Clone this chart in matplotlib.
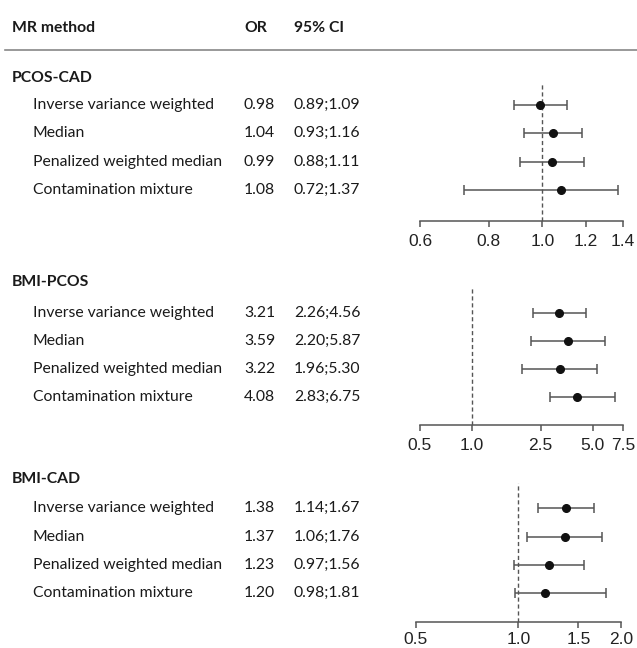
import matplotlib
matplotlib.use("Agg")
import matplotlib.pyplot as plt
import matplotlib.transforms as mtrans

# ---------------- data ----------------
methods = ["Inverse variance weighted", "Median",
           "Penalized weighted median", "Contamination mixture"]
groups = ["PCOS-CAD", "BMI-PCOS", "BMI-CAD"]

or_text = [["0.98", "1.04", "0.99", "1.08"],
           ["3.21", "3.59", "3.22", "4.08"],
           ["1.38", "1.37", "1.23", "1.20"]]
ci_text = [["0.89;1.09", "0.93;1.16", "0.88;1.11", "0.72;1.37"],
           ["2.26;4.56", "2.20;5.87", "1.96;5.30", "2.83;6.75"],
           ["1.14;1.67", "1.06;1.76", "0.97;1.56", "0.98;1.81"]]

# plotted estimates (as read from the drawn marks)
est_pcos_cad = [0.99, 1.045, 1.04, 1.08]
lo_pcos_cad = [0.89, 0.925, 0.91, 0.72]
hi_pcos_cad = [1.11, 1.18, 1.19, 1.37]

est_bmi_pcos = [3.21, 3.59, 3.22, 4.08]
lo_bmi_pcos = [2.26, 2.20, 1.96, 2.83]
hi_bmi_pcos = [4.56, 5.87, 5.30, 6.75]

est_bmi_cad = [1.38, 1.37, 1.23, 1.20]
lo_bmi_cad = [1.14, 1.06, 0.97, 0.98]
hi_bmi_cad = [1.67, 1.76, 1.56, 1.81]

ticks = [[0.6, 0.8, 1.0, 1.2, 1.4],
         [0.5, 1.0, 2.5, 5.0, 7.5],
         [0.5, 1.0, 1.5, 2.0]]
tick_labels = [["0.6", "0.8", "1.0", "1.2", "1.4"],
               ["0.5", "1.0", "2.5", "5.0", "7.5"],
               ["0.5", "1.0", "1.5", "2.0"]]

ests = [est_pcos_cad, est_bmi_pcos, est_bmi_cad]
los = [lo_pcos_cad, lo_bmi_pcos, lo_bmi_cad]
his = [hi_pcos_cad, hi_bmi_pcos, hi_bmi_cad]

# ---------------- layout (pixels) ----------------
W, H = 637, 648
rows_px = [[105, 133.3, 161.7, 190],
           [312.7, 340.7, 369, 397],
           [508.3, 536.7, 565, 593.3]]
header_px = [78, 282, 479]
axis_px = [221, 425, 621.7]
top_px = [84, 288, 483]
xl_px = [420, 420, 415.7]
xr_px = [623, 623, 621]
tick_pad = [4.5, 4.5, 3]
X_GROUP, X_ROW, X_OR, X_CI = 12, 33, 244, 294

TXT_FONT = ["Lato", "DejaVu Sans"]
TICK_FONT = ["Liberation Sans", "DejaVu Sans"]
FS = 11.3
txt_color = "#1a1a1a"
line_color = "#555555"

fig = plt.figure(figsize=(W / 100, H / 100), dpi=100)
fig.patch.set_facecolor("white")

# header
for xx, lab in [(X_GROUP, "MR method"), (X_OR, "OR"), (X_CI, "95% CI")]:
    fig.text(xx / W, 1 - 28 / H, lab, fontsize=FS, fontweight="bold",
             family=TXT_FONT, color=txt_color, va="center", ha="left")
fig.add_artist(plt.Line2D([5 / W, 1.0], [1 - 50 / H, 1 - 50 / H],
                          transform=fig.transFigure, color="#888888", lw=1.2))

for p in range(3):
    r = rows_px[p]
    s = (r[3] - r[0]) / 3.0
    y_bottom = 3 + (axis_px[p] - r[3]) / s
    y_top = -(r[0] - top_px[p]) / s
    ax = fig.add_axes([xl_px[p] / W, 1 - axis_px[p] / H,
                       (xr_px[p] - xl_px[p]) / W, (axis_px[p] - top_px[p]) / H])
    ax.set_xscale("log")
    ax.set_xlim(ticks[p][0], ticks[p][-1])
    ax.set_ylim(y_bottom, y_top)
    ax.patch.set_alpha(0)
    for sp in ["top", "left", "right"]:
        ax.spines[sp].set_visible(False)
    ax.spines["bottom"].set_color(line_color)
    ax.spines["bottom"].set_linewidth(1.1)
    ax.set_yticks([])
    ax.xaxis.set_minor_locator(matplotlib.ticker.NullLocator())
    ax.set_xticks(ticks[p])
    ax.set_xticklabels(tick_labels[p], family=TICK_FONT, fontsize=12.5,
                       color="#222222")
    ax.tick_params(axis="x", length=4.5, width=1.1, color=line_color,
                   pad=tick_pad[p])

    ax.axvline(1.0, color=line_color, lw=1.0, ls=(0, (3, 2)), zorder=1)

    ypos = [0, 1, 2, 3]
    e = ests[p]
    xerr = [[e[i] - los[p][i] for i in range(4)],
            [his[p][i] - e[i] for i in range(4)]]
    ax.errorbar(e, ypos, xerr=xerr, fmt="o", color="#111111", ms=5.5,
                ecolor=line_color, elinewidth=1.1, capsize=3.5,
                capthick=1.1, zorder=3, clip_on=False)

    tr = mtrans.blended_transform_factory(fig.transFigure, ax.transData)
    ax.text(X_GROUP / W, -(r[0] - header_px[p]) / s, groups[p], transform=tr,
            fontsize=FS, fontweight="bold", family=TXT_FONT,
            color=txt_color, va="center", ha="left")
    for i in range(4):
        ax.text(X_ROW / W, i, methods[i], transform=tr, fontsize=FS,
                family=TXT_FONT, color=txt_color, va="center", ha="left")
        ax.text(X_OR / W, i, or_text[p][i], transform=tr, fontsize=FS,
                family=TXT_FONT, color=txt_color, va="center", ha="left")
        ax.text(X_CI / W, i, ci_text[p][i], transform=tr, fontsize=FS,
                family=TXT_FONT, color=txt_color, va="center", ha="left")

fig.savefig("out.png", dpi=100, facecolor="white")
